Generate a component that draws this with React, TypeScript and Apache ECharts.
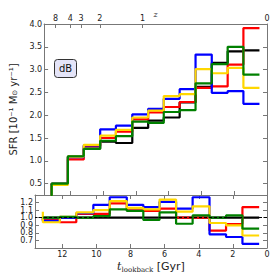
import React, { useEffect, useRef } from "react";
import * as echarts from "echarts";

// Bin edges in lookback time [Gyr]
const EDGES = [13.14, 12.15, 11.18, 10.18, 9.22, 8.22, 7.25, 6.3, 5.33, 4.36, 3.37, 2.4, 1.44, 0.46];

// Top panel: SFR [10^-1 Msun/yr]
const SFR_BLACK = [0.5, 1.09, 1.27, 1.42, 1.39, 1.72, 1.88, 1.95, 2.28, 2.62, 3.15, 3.4, 3.42];
const SFR_RED = [0.49, 1.03, 1.32, 1.5, 1.64, 1.91, 2.06, 2.18, 2.29, 2.6, 2.63, 3.11, 3.91];
const SFR_BLUE = [0.48, 1.08, 1.34, 1.69, 1.77, 2.02, 2.14, 2.36, 2.57, 3.33, 2.49, 2.53, 2.25];
const SFR_GOLD = [0.47, 1.09, 1.35, 1.55, 1.68, 1.95, 2.1, 2.42, 2.46, 3.01, 2.92, 3.04, 2.6];
const SFR_GREEN = [0.5, 1.1, 1.26, 1.44, 1.54, 1.86, 1.83, 2.07, 2.11, 2.7, 3.12, 3.5, 2.89];

// Bottom panel: ratio to black
const RATIO_BLACK = [1, 1, 1, 1, 1, 1, 1, 1, 1, 1, 1, 1, 1];
const RATIO_RED = [0.97, 0.94, 1.05, 1.05, 1.19, 1.12, 1.09, 1.12, 1.0, 1.0, 0.83, 0.915, 1.14];
const RATIO_BLUE = [0.96, 1.0, 1.06, 1.17, 1.27, 1.17, 1.14, 1.21, 1.12, 1.27, 0.78, 0.745, 0.655];
const RATIO_GOLD = [0.94, 1.01, 1.07, 1.1, 1.22, 1.13, 1.11, 1.24, 1.08, 1.15, 0.93, 0.9, 0.765];
const RATIO_GREEN = [1.0, 1.01, 1.0, 1.02, 1.11, 1.09, 0.97, 1.07, 0.92, 1.03, 1.0, 1.03, 0.855];
const RATIO_LEAD = { black: 1, red: 1, blue: 1, gold: 1.08, green: 1 };

// Top axis: redshift labels at their lookback times
const Z_LABELS = ["8", "4", "3", "2", "1", "0"];
const Z_LOOKBACK = [12.9, 12.0, 11.35, 10.2, 7.6, 0];

const SFR_TICKS = [0.5, 1.0, 1.5, 2.0, 2.5, 3.0, 3.5, 4.0];
const RATIO_TICKS = [0.6, 0.7, 0.8, 0.9, 1.0, 1.1, 1.2, 1.3];
const T_TICKS = [0, 2, 4, 6, 8, 10, 12];

const COLORS = {
  black: "#000000",
  red: "#ff0000",
  blue: "#0000ff",
  gold: "#ffd700",
  green: "#008000",
};

function stepData(vals: number[], lead: number) {
  const pts: number[][] = [[EDGES[0], lead]];
  EDGES.forEach((e, i) => pts.push([e, vals[Math.min(i, vals.length - 1)]]));
  return pts;
}

const AXIS_COLOR = "#777";
const TEXT_COLOR = "#222";
const FONT = "DejaVu Sans";

function xAx(gridIndex: number, position: string, extra: any = {}) {
  return {
    type: "value",
    gridIndex,
    position,
    min: 0,
    max: 13.6,
    inverse: true,
    axisLine: { show: true, onZero: false, lineStyle: { color: AXIS_COLOR, width: 1 } },
    axisTick: { show: true, inside: true, length: 4, customValues: T_TICKS, lineStyle: { color: AXIS_COLOR } },
    axisLabel: { show: false },
    splitLine: { show: false },
    ...extra,
  };
}

function yAx(gridIndex: number, position: string, min: number, max: number, ticks: number[], labels: boolean) {
  return {
    type: "value",
    gridIndex,
    position,
    min,
    max,
    axisLine: { show: true, onZero: false, lineStyle: { color: AXIS_COLOR, width: 1 } },
    axisTick: { show: true, inside: true, length: 4, customValues: ticks, lineStyle: { color: AXIS_COLOR } },
    axisLabel: {
      show: labels,
      customValues: ticks,
      fontSize: 8,
      fontFamily: FONT,
      color: TEXT_COLOR,
      margin: 2,
      formatter: (v: number) => v.toFixed(1),
    },
    splitLine: { show: false },
  };
}

export default function App() {
  const ref = useRef<HTMLDivElement>(null);

  useEffect(() => {
    if (!ref.current) return;
    const chart = echarts.init(ref.current, null, { renderer: "svg" });

    const top = [
      ["black", SFR_BLACK],
      ["red", SFR_RED],
      ["blue", SFR_BLUE],
      ["gold", SFR_GOLD],
      ["green", SFR_GREEN],
    ] as [keyof typeof COLORS, number[]][];
    const bottom = [
      ["black", RATIO_BLACK],
      ["red", RATIO_RED],
      ["blue", RATIO_BLUE],
      ["gold", RATIO_GOLD],
      ["green", RATIO_GREEN],
    ] as [keyof typeof COLORS, number[]][];

    const series: any[] = [];
    top.forEach(([name, vals], i) => {
      series.push({
        type: "line",
        name: name + "_sfr",
        xAxisIndex: 0,
        yAxisIndex: 0,
        step: "end",
        symbol: "none",
        clip: true,
        z: 2 + i,
        lineStyle: { color: COLORS[name], width: 2.2 },
        data: stepData(vals, 0),
      });
    });
    bottom.forEach(([name, vals], i) => {
      const s: any = {
        type: "line",
        name: name + "_ratio",
        xAxisIndex: 2,
        yAxisIndex: 2,
        step: "end",
        symbol: "none",
        clip: true,
        z: 2 + i,
        lineStyle: { color: COLORS[name], width: 2.2 },
        data: stepData(vals, RATIO_LEAD[name]),
      };
      if (name === "black") {
        s.markLine = {
          silent: true,
          symbol: "none",
          label: { show: false },
          z: 20,
          lineStyle: { color: "#000", type: [3, 2], width: 1.2 },
          data: [{ yAxis: 1.0 }],
        };
      }
      series.push(s);
    });

    const option: any = {
      animation: false,
      grid: [
        { left: 35, right: 7, top: 24, height: 171 },
        { left: 35, right: 7, top: 195, height: 55 },
      ],
      xAxis: [
        xAx(0, "bottom"),
        xAx(0, "top", {
          axisTick: { show: true, inside: true, length: 4, customValues: Z_LOOKBACK, lineStyle: { color: AXIS_COLOR } },
          axisLabel: {
            show: true,
            customValues: Z_LOOKBACK,
            fontSize: 8,
            fontFamily: FONT,
            color: TEXT_COLOR,
            margin: 2,
            formatter: (v: number) => {
              const idx = Z_LOOKBACK.findIndex((t) => Math.abs(t - v) < 1e-6);
              return idx >= 0 ? Z_LABELS[idx] : "";
            },
          },
          name: "z",
          nameLocation: "middle",
          nameGap: 6,
          nameMoveOverlap: false,
          nameTextStyle: { fontFamily: "DejaVu Serif", fontStyle: "italic", fontSize: 8, color: TEXT_COLOR },
        }),
        xAx(1, "bottom", {
          axisLabel: {
            show: true,
            customValues: T_TICKS,
            fontSize: 8,
            fontFamily: FONT,
            color: TEXT_COLOR,
            margin: 2,
          },
          name: "{tt|t}{sb|lookback}{gy| [Gyr]}",
          nameLocation: "middle",
          nameGap: 12,
          nameTextStyle: {
            color: TEXT_COLOR,
            rich: {
              tt: { fontFamily: "DejaVu Serif", fontStyle: "italic", fontSize: 11, color: "#222222" },
              sb: { fontFamily: "DejaVu Serif", fontSize: 7, color: "#222222", padding: [6, 0, 0, 0] },
              gy: { fontFamily: FONT, fontSize: 11, color: "#222222" },
            },
          },
        }),
        xAx(1, "top"),
      ],
      yAxis: [
        {
          ...yAx(0, "left", 0.25, 4.0, SFR_TICKS, true),
          name: "{aa|SFR [10⁻¹ M}{bb|⊙}{aa| yr⁻¹]}",
          nameLocation: "middle",
          nameGap: 17,
          nameTextStyle: {
            color: TEXT_COLOR,
            rich: {
              aa: { fontFamily: FONT, fontSize: 10, color: "#222222" },
              bb: { fontFamily: FONT, fontSize: 7, color: "#222222", padding: [4, 0, 0, 0] },
            },
          },
        },
        yAx(0, "right", 0.25, 4.0, SFR_TICKS, false),
        yAx(1, "left", 0.6, 1.3, RATIO_TICKS, true),
        yAx(1, "right", 0.6, 1.3, RATIO_TICKS, false),
      ],
      graphic: [
        {
          type: "group",
          left: 54,
          top: 59,
          children: [
            {
              type: "rect",
              shape: { x: 0, y: 0, width: 22, height: 18, r: 3 },
              style: { fill: "#e4e4f8", stroke: "#333", lineWidth: 1 },
            },
            {
              type: "text",
              x: 11,
              y: 9,
              style: {
                text: "dB",
                fontFamily: FONT,
                fontSize: 10,
                fill: "#111",
                align: "center",
                verticalAlign: "middle",
              },
            },
          ],
        },
      ],
      series,
    };

    chart.setOption(option);
    return () => chart.dispose();
  }, []);

  return (
    <div
      ref={ref}
      style={{ position: "fixed", left: 0, top: 0, width: 274, height: 274, background: "#fff" }}
    />
  );
}
